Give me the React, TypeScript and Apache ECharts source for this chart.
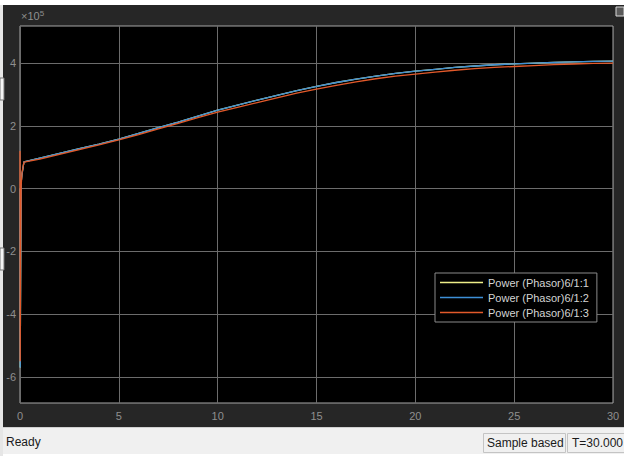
import React, { useEffect, useRef } from "react";
import * as echarts from "echarts";

const timeSec = [0, 0.01, 0.03, 0.06, 0.1, 0.2, 1, 2, 3, 4, 5, 6, 7, 8, 9, 10, 11, 12, 13, 14, 15, 16, 17, 18, 19, 20, 21, 22, 23, 24, 25, 26, 27, 28, 29, 30];
const power1 = [0, -5.7, -3.0, 0.2, 0.45, 0.85, 0.97, 1.12, 1.27, 1.42, 1.58, 1.76, 1.94, 2.12, 2.31, 2.5, 2.66, 2.82, 2.97, 3.12, 3.26, 3.38, 3.49, 3.58, 3.67, 3.74, 3.8, 3.86, 3.905, 3.945, 3.975, 4.0, 4.02, 4.035, 4.05, 4.06];
const power2 = [0, -5.7, -3.0, 0.2, 0.45, 0.85, 0.97, 1.12, 1.27, 1.42, 1.58, 1.76, 1.94, 2.12, 2.31, 2.5, 2.66, 2.82, 2.97, 3.12, 3.26, 3.38, 3.49, 3.58, 3.67, 3.74, 3.8, 3.86, 3.905, 3.945, 3.975, 4.0, 4.02, 4.035, 4.05, 4.06];
const power3 = [1.2, -5.5, -2.0, 0.1, 0.5, 0.84, 0.94, 1.09, 1.24, 1.39, 1.55, 1.72, 1.9, 2.08, 2.26, 2.44, 2.59, 2.74, 2.89, 3.04, 3.17, 3.29, 3.4, 3.5, 3.58, 3.65, 3.71, 3.77, 3.82, 3.86, 3.89, 3.92, 3.95, 3.97, 3.99, 4.0];
const seriesNames = ["Power (Phasor)6/1:1", "Power (Phasor)6/1:2", "Power (Phasor)6/1:3"];
const yTicks = [-6, -4, -2, 0, 2, 4];
const statusText = "Ready";
const modeText = "Sample based";
const timeText = "T=30.000";

const FONT = "Liberation Sans, Arial, sans-serif";

export default function App() {
  const ref = useRef<HTMLDivElement>(null);
  useEffect(() => {
    if (!ref.current) return;
    const chart = echarts.init(ref.current, null, { renderer: "svg" });
    const pair = (ys: number[]) => timeSec.map((t, i) => [t, ys[i]]);
    const colors = ["#eeee88", "#3d8fd6", "#e2592a"];
    chart.setOption({
      animation: false,
      backgroundColor: "#ffffff",
      color: colors,
      grid: {
        left: 20,
        top: 26,
        right: 11,
        bottom: 53,
        show: true,
        backgroundColor: "#000000",
        borderColor: "#a6a6a6",
        borderWidth: 1,
      },
      xAxis: {
        type: "value",
        min: 0,
        max: 30,
        interval: 5,
        axisLine: { show: false },
        axisTick: { show: false },
        axisLabel: { color: "#8f8f8f", fontSize: 11, fontFamily: FONT, margin: 7 },
        splitLine: { show: true, lineStyle: { color: "#6c6c6c", width: 1 } },
      },
      yAxis: {
        type: "value",
        min: -6.83,
        max: 5.18,
        axisLine: { show: false },
        axisTick: { show: false, customValues: yTicks },
        axisLabel: { color: "#8f8f8f", fontSize: 11, fontFamily: FONT, margin: 4, customValues: yTicks },
        splitLine: { show: true, lineStyle: { color: "#6c6c6c", width: 1 } },
      },
      legend: {
        orient: "vertical",
        left: 435,
        top: 273,
        itemWidth: 43,
        itemHeight: 1.5,
        itemGap: 2,
        padding: [3, 8, 3, 5],
        backgroundColor: "#000000",
        borderColor: "#8a8a8a",
        borderWidth: 1,
        borderRadius: 0,
        icon: "rect",
        textStyle: { color: "#d4d4d4", fontSize: 11, fontFamily: FONT, lineHeight: 13 },
        data: seriesNames,
      },
      graphic: [
        { type: "rect", silent: true, z: -10, shape: { x: 0, y: 0, width: 624, height: 5 }, style: { fill: "#ffffff" } },
        { type: "rect", silent: true, z: -10, shape: { x: 3, y: 5, width: 621, height: 422 }, style: { fill: "#262626" } },
        { type: "rect", silent: true, z: -10, shape: { x: 0, y: 5, width: 3, height: 451 }, style: { fill: "#e6e6e6" } },
        { type: "rect", silent: true, shape: { x: 0, y: 78, width: 4, height: 22 }, style: { fill: "#f4f4f4", stroke: "#777777", lineWidth: 1 } },
        { type: "rect", silent: true, shape: { x: 0, y: 248, width: 4, height: 22 }, style: { fill: "#f4f4f4", stroke: "#777777", lineWidth: 1 } },
        { type: "rect", silent: true, z: -10, shape: { x: 3, y: 427, width: 621, height: 27 }, style: { fill: "#f0f0f0" } },
        { type: "line", silent: true, shape: { x1: 3, y1: 427.5, x2: 624, y2: 427.5 }, style: { stroke: "#d0d0d0", lineWidth: 1 } },
        {
          type: "text",
          left: 21,
          top: 9,
          style: {
            text: "{a|×10}{b|5}",
            rich: {
              a: { fill: "#8f8f8f", fontSize: 11, fontFamily: FONT },
              b: { fill: "#8f8f8f", fontSize: 8, fontFamily: FONT, verticalAlign: "top", padding: [0, 0, 6, 0] },
            },
          },
        },
        { type: "rect", silent: true, shape: { x: 616, y: 7, width: 8, height: 9 }, style: { fill: "#5a5a5a", stroke: "#d8d8d8", lineWidth: 1 } },
        { type: "text", left: 6, top: 436, style: { text: statusText, fill: "#1a1a1a", fontSize: 12, fontFamily: FONT } },
        { type: "rect", silent: true, shape: { x: 483.5, y: 433.5, width: 82, height: 19 }, style: { fill: "#f0f0f0", stroke: "#c4c4c4", lineWidth: 1 } },
        { type: "text", left: 487, top: 437, style: { text: modeText, fill: "#1a1a1a", fontSize: 12, fontFamily: FONT } },
        { type: "rect", silent: true, shape: { x: 567.5, y: 433.5, width: 58, height: 19 }, style: { fill: "#f0f0f0", stroke: "#c4c4c4", lineWidth: 1 } },
        { type: "text", left: 572, top: 437, style: { text: timeText, fill: "#1a1a1a", fontSize: 12, fontFamily: FONT } },
      ],
      series: [
        { name: seriesNames[0], type: "line", data: pair(power1), showSymbol: false, symbol: "none", lineStyle: { width: 1.3, color: colors[0] }, itemStyle: { color: colors[0] } },
        { name: seriesNames[1], type: "line", data: pair(power2), showSymbol: false, symbol: "none", lineStyle: { width: 1.3, color: colors[1] }, itemStyle: { color: colors[1] } },
        { name: seriesNames[2], type: "line", data: pair(power3), showSymbol: false, symbol: "none", lineStyle: { width: 1.3, color: colors[2] }, itemStyle: { color: colors[2] } },
      ],
    });
    return () => chart.dispose();
  }, []);
  return (
    <div style={{ position: "fixed", left: 0, top: 0, width: 624, height: 456 }}>
      <div ref={ref} style={{ width: 624, height: 456 }} />
    </div>
  );
}
